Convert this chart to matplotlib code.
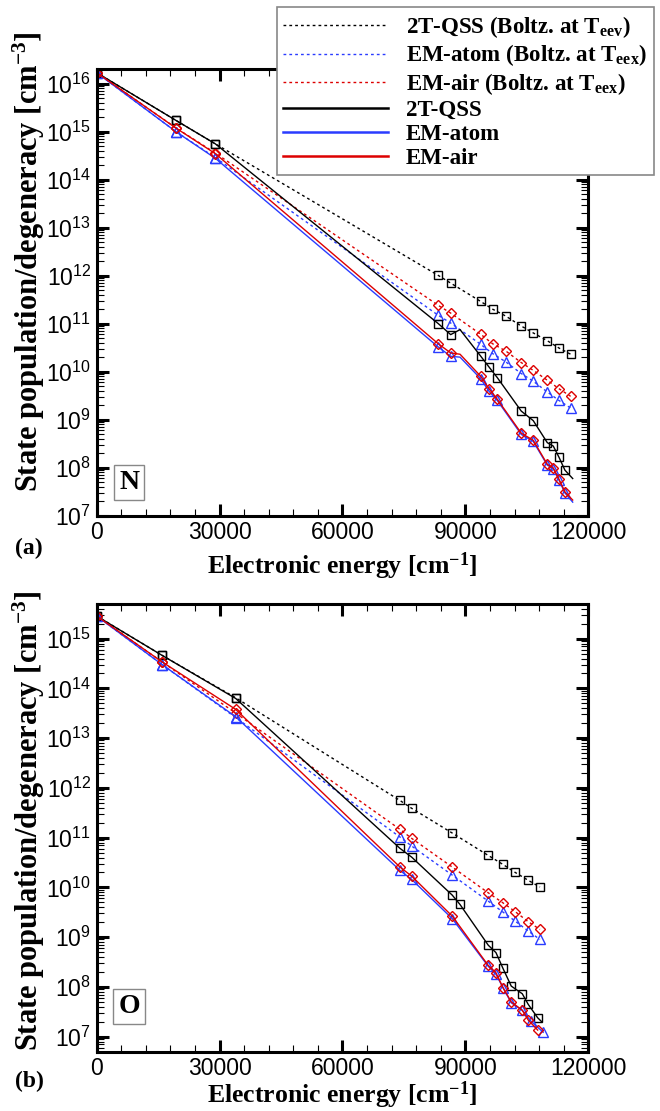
import matplotlib
matplotlib.use("Agg")
import matplotlib.pyplot as plt
from matplotlib.lines import Line2D
from matplotlib.ticker import (LogLocator, LogFormatterMathtext, MultipleLocator,
                               NullFormatter, FormatStrFormatter)

plt.rcParams['font.family'] = 'Liberation Sans'
plt.rcParams['mathtext.default'] = 'regular'

# ---- N atom ----
n_e_boltz = [0, 19360, 28950, 83390, 86410, 93740, 96660, 99840, 103650,
             106570, 110000, 112850, 115700]
n_qss_boltz = [1.7e16, 1.72e15, 5.6e14, 1.01e12, 7.0e11, 2.9e11, 2.0e11,
               1.44e11, 8.9e10, 6.4e10, 4.4e10, 3.1e10, 2.3e10]
n_atom_boltz = [1.7e16, 1.0e15, 2.9e14, 1.49e11, 1.03e11, 3.7e10, 2.37e10,
                1.6e10, 9.1e9, 6.3e9, 3.76e9, 2.5e9, 1.74e9]
n_air_boltz = [1.7e16, 1.2e15, 3.6e14, 2.4e11, 1.66e11, 6.0e10, 3.8e10,
               2.7e10, 1.54e10, 1.06e10, 6.6e9, 4.4e9, 3.05e9]

n_e = [0, 19360, 28950, 83390, 86410, 88700, 93740, 95760, 97790, 103650,
       106570, 110000, 111460, 112850, 114310, 116200]
n_qss = [1.7e16, 1.72e15, 5.6e14, 1.0e11, 5.9e10, 7.5e10, 2.1e10, 1.25e10,
         7.5e9, 1.5e9, 9.5e8, 3.3e8, 2.8e8, 1.64e8, 8.8e7, 5.9e7]
n_atom = [1.7e16, 1.0e15, 2.8e14, 3.25e10, 2.08e10, 2.0e10, 7.1e9, 3.9e9,
          2.5e9, 4.9e8, 3.5e8, 1.12e8, 9.5e7, 5.5e7, 2.95e7, 1.9e7]
n_air = [1.7e16, 1.19e15, 3.5e14, 3.8e10, 2.45e10, 2.3e10, 8.0e9, 4.4e9,
         2.65e9, 5.2e8, 3.7e8, 1.17e8, 9.8e7, 5.7e7, 3.1e7, 2.1e7]
n_marked = [0, 1, 2, 3, 4, 6, 7, 8, 9, 10, 11, 12, 13, 14]

# ---- O atom ----
o_e_boltz = [0, 16010, 33930, 74040, 76890, 86800, 95590, 99180, 102180,
             105350, 108210]
o_qss_boltz = [2.85e15, 4.6e14, 6.5e13, 5.6e11, 3.9e11, 1.24e11, 4.4e10,
               2.9e10, 2.0e10, 1.39e10, 1.02e10]
o_atom_boltz = [2.85e15, 3.0e14, 2.6e13, 1.03e11, 6.8e10, 1.77e10, 5.3e9,
                3.2e9, 2.1e9, 1.33e9, 9.0e8]
o_air_boltz = [2.85e15, 3.4e14, 3.2e13, 1.47e11, 9.7e10, 2.57e10, 7.8e9,
               4.9e9, 3.26e9, 2.05e9, 1.43e9]

o_e_qss = [0, 16010, 33930, 74040, 76890, 86800, 88680, 95590, 97470,
           99180, 101200, 103890, 105350, 107650, 108630]
o_qss = [2.85e15, 4.6e14, 6.3e13, 6.1e10, 4.07e10, 7.0e9, 4.56e9, 6.9e8,
         4.9e8, 2.36e8, 1.04e8, 7.3e7, 4.46e7, 2.4e7, 2.0e7]
o_qss_marked = list(range(14))

o_e_atom = [0, 16010, 33930, 74040, 76890, 86800, 95590, 97470, 99180,
            101200, 103890, 106000, 109000]
o_atom = [2.85e15, 3.0e14, 2.7e13, 2.2e10, 1.45e10, 2.36e9, 2.6e8, 1.79e8,
          9.7e7, 4.8e7, 3.4e7, 2.05e7, 1.23e7]

o_e_air = [0, 16010, 33930, 74040, 76890, 86800, 95590, 97470, 99180,
           101200, 103890, 105350, 107650]
o_air = [2.85e15, 3.4e14, 3.8e13, 2.57e10, 1.69e10, 2.65e9, 2.7e8, 1.93e8,
         9.7e7, 5.0e7, 3.4e7, 2.16e7, 1.36e7]

BLACK = '#000000'
BLUE = '#2a3cff'
RED = '#dd0000'
DOT = (0, (2.0, 2.2))

serif_bold = dict(family='Liberation Serif', weight='bold')

fig = plt.figure(figsize=(6.6, 11.11), dpi=100)
ax_a = fig.add_axes([0.1465, 0.536, 0.7448, 0.4016])
ax_b = fig.add_axes([0.1465, 0.0534, 0.7448, 0.403])

MARKERS = ['s', '^', 'D']
SIZES = [6, 6.8, 5]
COLORS = [BLACK, BLUE, RED]


def draw(ax, e_b, boltz, series):
    kw = dict(mfc='none', mew=1.0)
    for v, color, mk, ms in zip(boltz, COLORS, MARKERS, SIZES):
        ax.plot(e_b, v, ls=DOT, lw=1.0, color=color, marker=mk, ms=ms, **kw)
    for (e, v, marked), color, mk, ms in zip(series, COLORS, MARKERS, SIZES):
        ax.plot(e, v, ls='-', lw=1.0, color=color, marker=mk, ms=ms,
                markevery=marked, **kw)


def style(ax, ylim, xlab_y, ylab_y):
    ax.set_yscale('log')
    ax.set_xlim(0, 120000)
    ax.set_ylim(*ylim)
    ax.xaxis.set_major_locator(MultipleLocator(30000))
    ax.xaxis.set_minor_locator(MultipleLocator(6000))
    ax.xaxis.set_major_formatter(FormatStrFormatter('%d'))
    ax.yaxis.set_major_locator(LogLocator(base=10, numticks=20))
    ax.yaxis.set_minor_locator(LogLocator(base=10, subs=range(2, 10), numticks=20))
    ax.yaxis.set_major_formatter(LogFormatterMathtext())
    ax.yaxis.set_minor_formatter(NullFormatter())
    ax.tick_params(which='both', direction='in', top=True, right=True,
                   labelsize=16.5)
    ax.tick_params(which='major', length=8.5, width=2.2, pad=4)
    ax.tick_params(which='minor', length=5, width=0.8)
    for sp in ax.spines.values():
        sp.set_linewidth(2.2)
    ax.set_xlabel('Electronic energy [cm$^{-1}$]', fontsize=18.5, **serif_bold)
    ax.set_ylabel('State population/degeneracy [cm$^{-3}$]', fontsize=22,
                  **serif_bold)
    ax.xaxis.set_label_coords(0.5, xlab_y)
    ax.yaxis.set_label_coords(-0.102, ylab_y)


draw(ax_a, n_e_boltz, [n_qss_boltz, n_atom_boltz, n_air_boltz],
     [(n_e, n_qss, n_marked), (n_e, n_atom, n_marked), (n_e, n_air, n_marked)])
style(ax_a, (1e7, 2e16), -0.078, 0.57)

draw(ax_b, o_e_boltz, [o_qss_boltz, o_atom_boltz, o_air_boltz],
     [(o_e_qss, o_qss, o_qss_marked),
      (o_e_atom, o_atom, list(range(len(o_e_atom)))),
      (o_e_air, o_air, list(range(len(o_e_air))))])
style(ax_b, (5e6, 5e15), -0.062, 0.515)

# species tags inside the plots
box = dict(boxstyle='square,pad=0.18', fc='white', ec='#888888', lw=1.0)
ax_a.text(0.066, 0.073, 'N', transform=ax_a.transAxes, ha='center',
          va='center', fontsize=20, bbox=box, **serif_bold)
ax_b.text(0.066, 0.1, 'O', transform=ax_b.transAxes, ha='center',
          va='center', fontsize=20, bbox=box, **serif_bold)

fig.text(15 / 660, 1 - 548 / 1111, '(a)', fontsize=17, va='center', **serif_bold)
fig.text(15 / 660, 1 - 1081 / 1111, '(b)', fontsize=17, va='center', **serif_bold)

handles = [Line2D([], [], color=c, ls=DOT, lw=1.0) for c in COLORS]
handles += [Line2D([], [], color=c, ls='-', lw=1.8) for c in COLORS]
labels = [
    '2T-QSS (Boltz. at T$_{eev}$)',
    'EM-atom (Boltz. at T$_{eex}$)',
    'EM-air (Boltz. at T$_{eex}$)',
    '2T-QSS',
    'EM-atom',
    'EM-air',
]
leg = fig.legend(handles, labels, loc='upper right',
                 bbox_to_anchor=(654 / 660, 1 - 7 / 1111), borderaxespad=0,
                 frameon=True, fancybox=False, framealpha=1,
                 edgecolor='#888888', handlelength=4.55, handletextpad=0.8,
                 labelspacing=0.12, borderpad=0.3,
                 prop=dict(family='Liberation Serif', weight='bold', size=16.5))
leg.get_frame().set_linewidth(1.2)

fig.savefig('out.png', dpi=100)
